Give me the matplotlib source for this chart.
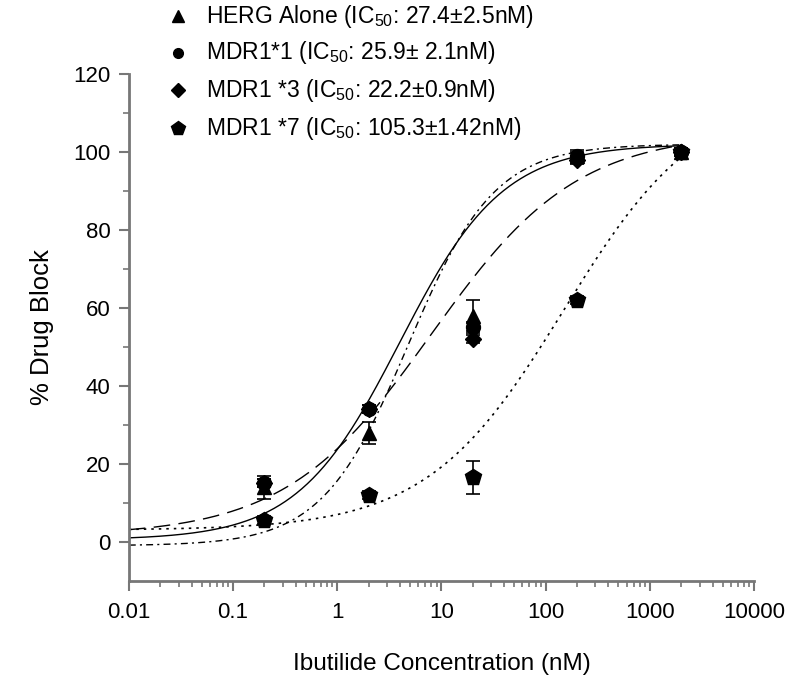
import numpy as np
import matplotlib
matplotlib.use("Agg")
import matplotlib.pyplot as plt
from matplotlib.lines import Line2D

plt.rcParams['font.family'] = ['Liberation Sans', 'DejaVu Sans']
plt.rcParams['mathtext.fontset'] = 'custom'
plt.rcParams['mathtext.rm'] = 'Liberation Sans'
plt.rcParams['mathtext.it'] = 'Liberation Sans'

# ---- data ----
conc = [0.2, 2, 20, 200, 2000]
herg = [14.0, 28.0, 58.0, 99.0, 100.0]
herg_err = [3.0, 2.8, 4.0, 1.5, 1.0]
mdr1_1 = [15.0, 34.0, 55.0, 99.0, 100.0]
mdr1_1_err = [1.0, 1.0, 1.5, 1.0, 1.0]
mdr1_3 = [15.0, 34.0, 52.0, 98.0, 100.0]
mdr1_3_err = [1.0, 1.0, 1.0, 1.0, 1.0]
mdr1_7 = [5.5, 12.0, 16.5, 62.0, 100.0]
mdr1_7_err = [1.0, 1.0, 4.3, 1.0, 1.0]

labels = [r'HERG Alone (IC$_{50}$: 27.4±2.5nM)',
          r'MDR1*1 (IC$_{50}$: 25.9± 2.1nM)',
          r'MDR1 *3 (IC$_{50}$: 22.2±0.9nM)',
          r'MDR1 *7 (IC$_{50}$: 105.3±1.42nM)']

# fitted Hill curve parameters (bottom, top, IC50 of drawn curve, slope)
fit_solid = (0.5, 102.0, 4.0, 0.88)
fit_longdash = (1.5, 105.0, 8.0, 0.62)
fit_dashdot = (-1.0, 102.0, 4.8, 1.05)
fit_dotted = (3.0, 116.0, 150.0, 0.66)

yticks = [0, 20, 40, 60, 80, 100, 120]
xticks = [0.01, 0.1, 1, 10, 100, 1000, 10000]
xticklabels = ['0.01', '0.1', '1', '10', '100', '1000', '10000']

def hill(x, p):
    b, t, ic, n = p
    return b + (t - b) / (1.0 + (ic / x) ** n)

fig = plt.figure(figsize=(8, 6.89), dpi=100)
ax = fig.add_axes([0.161, 0.157, 0.7815, 0.7357])

xs = np.logspace(-2, np.log10(2000), 400)
ax.plot(xs, hill(xs, fit_solid), color='black', lw=1.0, ls='-')
ax.plot(xs, hill(xs, fit_longdash), color='black', lw=1.0, ls=(0, (12, 6)))
ax.plot(xs, hill(xs, fit_dashdot), color='black', lw=1.0, ls=(0, (5, 3, 1.5, 3)))
ax.plot(xs, hill(xs, fit_dotted), color='black', lw=1.2, ls=(0, (1.5, 3)))

series = [(herg, herg_err, '^', 10),
          (mdr1_1, mdr1_1_err, 'o', 10),
          (mdr1_3, mdr1_3_err, 'D', 8.5),
          (mdr1_7, mdr1_7_err, 'p', 12)]
for vals, err, m, ms in series:
    ax.errorbar(conc, vals, yerr=err, fmt=m, color='black', ms=ms,
                capsize=5, elinewidth=1.2, capthick=1.2, zorder=3)

ax.set_xscale('log')
ax.set_xlim(0.01, 10000)
ax.set_ylim(-10, 120)
ax.set_xticks(xticks)
ax.set_xticklabels(xticklabels)
ax.set_yticks(yticks)
ax.set_yticks([10, 30, 50, 70, 90, 110], minor=True)
ax.xaxis.set_minor_locator(matplotlib.ticker.LogLocator(base=10, subs=np.arange(2, 10), numticks=20))
ax.xaxis.set_minor_formatter(matplotlib.ticker.NullFormatter())

for s in ['top', 'right']:
    ax.spines[s].set_visible(False)
for s in ['left', 'bottom']:
    ax.spines[s].set_color('#777777')
    ax.spines[s].set_linewidth(2.0)
ax.tick_params(which='major', length=7, width=1.5, color='#777777', labelsize=16, direction='out')
ax.tick_params(which='minor', length=4, width=1.2, color='#777777', direction='out')
ax.tick_params(axis='x', pad=8)
ax.tick_params(axis='y', pad=6)

ax.set_xlabel('Ibutilide Concentration (nM)', fontsize=17.5, labelpad=22)
ax.set_ylabel('% Drug Block', fontsize=18.5, labelpad=14)

# legend (markers only)
leg_y = [1 - 16 / 689, 1 - 53 / 689, 1 - 90 / 689, 1 - 128 / 689]
leg_m = [('^', 9), ('o', 7), ('D', 7), ('p', 10)]
for (m, ms), yy, lab in zip(leg_m, leg_y, labels):
    fig.add_artist(Line2D([178 / 800], [yy], marker=m, ms=ms, color='black',
                          transform=fig.transFigure, ls='none'))
    t = fig.text(206 / 800, yy, lab, fontsize=16.5, va='center', ha='left')

fig.savefig('out.png', dpi=100)
